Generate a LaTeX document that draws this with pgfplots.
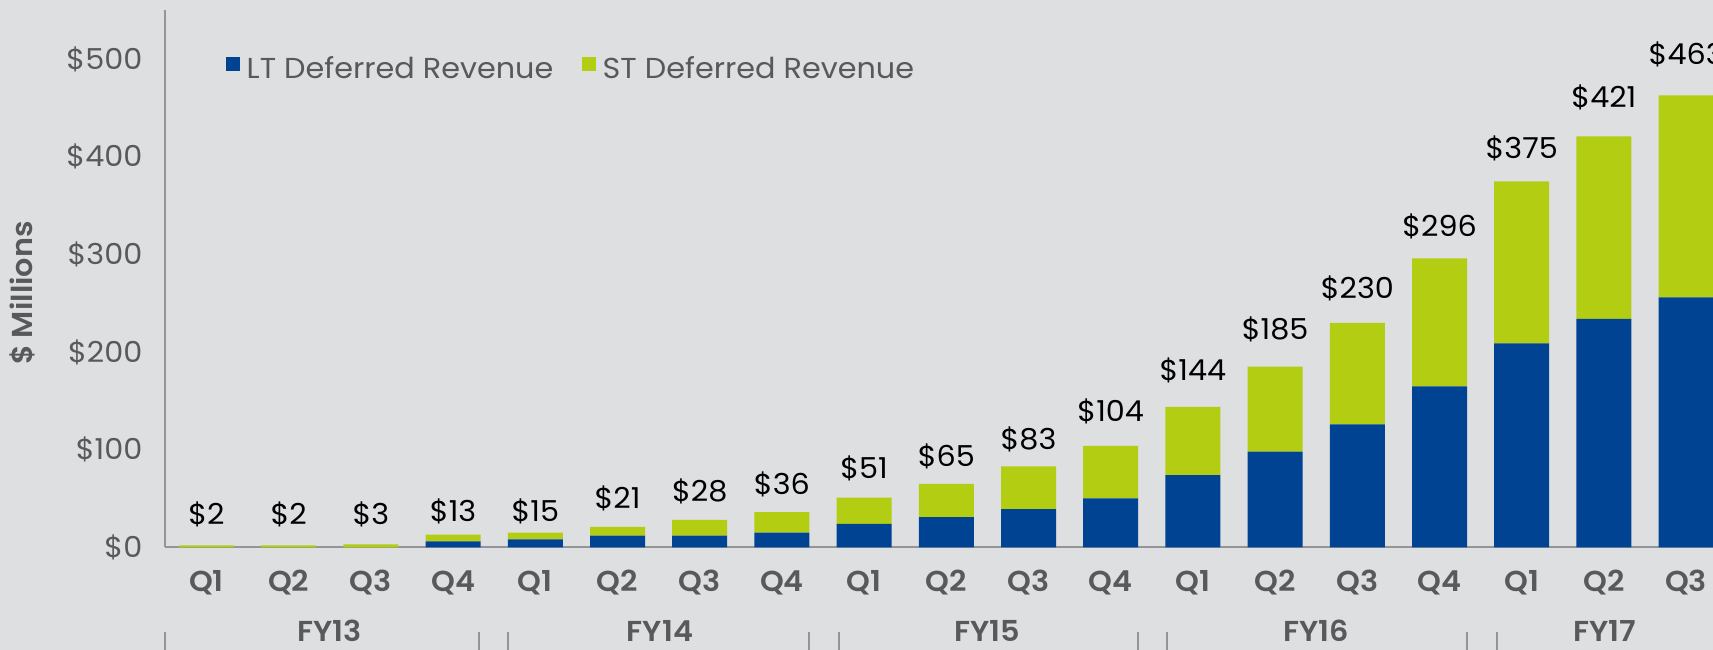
\documentclass[border=0pt]{standalone}
\usepackage{pgfplots}
\pgfplotsset{compat=1.18}
\usepackage{pgfplotstable}
\usepackage{fontspec}
\setmainfont{Poppins}[BoldFont={Poppins SemiBold}, FakeStretch=1.05]

\definecolor{bg}{HTML}{DEDFE1}
\definecolor{ltblue}{HTML}{004393}
\definecolor{stgreen}{HTML}{B3CD13}
\definecolor{txtgray}{HTML}{58595B}
\definecolor{axisgray}{HTML}{939598}
\newcommand\fs{\fontsize{8.2pt}{9pt}\selectfont}

% deferred revenue, $ millions (LT + ST = total); laby = height of the label baseline
\pgfplotstableread{
x  lt  st  total laby
0  0   2   2     23
1  0   2   2     23
2  0   3   3     23
3  6   7   13    26
4  8   7   15    26
5  12  9   21    40
6  12  16  28    47
7  15  21  36    54
8  24  27  51    70
9  31  34  65    83
10 39  44  83    100
11 50  54  104   129
12 74  70  144   171
13 98  87  185   213
14 126 104 230   255
15 165 131 296   318
16 209 166 375   398
17 234 187 421   451
18 256 207 463   495
}\deferred

\pgfplotsset{
  frame/.style={
    at={(1.65cm,1.027cm)}, anchor=south west,
    scale only axis, width=155.4mm, height=53.73mm,
    xmin=-0.505, xmax=18.4, ymin=0, ymax=550.5,
    clip=false,
  }
}

\begin{document}
\begin{tikzpicture}
  % 1 cm = 100 px of the reference
  \fill[bg] (0,0) rectangle (17.13,6.5);
  \path[use as bounding box] (0,0) rectangle (17.13,6.5);
  \clip (0,0) rectangle (17.13,6.5);

  \begin{axis}[
      frame,
      ybar stacked, bar width=5.5mm,
      axis x line=bottom, axis y line=left,
      x axis line style={-, draw=axisgray, line width=0.6pt},
      y axis line style={-, draw=axisgray, line width=0.45pt},
      major tick length=0pt,
      xtick={0,...,18},
      xticklabels={Q1,Q2,Q3,Q4,Q1,Q2,Q3,Q4,Q1,Q2,Q3,Q4,Q1,Q2,Q3,Q4,Q1,Q2,Q3},
      ytick={0,100,...,500},
      yticklabels={\$0,\$100,\$200,\$300,\$400,\$500},
      tick label style={font=\fs, text=txtgray},
      xticklabel style={font=\fs\bfseries, anchor=base, yshift=-4.44mm},
      yticklabel style={anchor=east, inner sep=0pt, xshift=-2.2mm},
      ylabel={\$ Millions},
      ylabel style={at={(axis description cs:-0.0917,0.473)}, anchor=center,
                    font=\fs\bfseries, text=txtgray},
    ]
    \addplot[fill=ltblue, draw=none] table[x=x, y=lt] {\deferred};
    \addplot[fill=stgreen, draw=none] table[x=x, y=st] {\deferred};
  \end{axis}

  % same frame, not stacked: total labels above each bar
  \begin{axis}[frame, hide axis]
    \addplot[draw=none, mark=none,
             point meta=explicit symbolic,
             nodes near coords={\$\pgfplotspointmeta},
             nodes near coords style={font=\fs, text=black, anchor=base, inner sep=0pt}]
      table[x=x, y=laby, meta=total] {\deferred};
  \end{axis}

  % legend
  \fill[ltblue] (2.26,5.79) rectangle (2.40,5.93);
  \node[anchor=base west, inner sep=0pt, font=\fs, text=txtgray] at (2.46,5.71) {LT Deferred Revenue};
  \fill[stgreen] (5.82,5.79) rectangle (5.96,5.93);
  \node[anchor=base west, inner sep=0pt, font=\fs, text=txtgray] at (6.02,5.71) {ST Deferred Revenue};

  % fiscal year groups
  \foreach \xx in {1.65,4.79,5.08,8.09,8.39,11.38,11.67,14.67,14.97}
    \draw[axisgray, line width=0.45pt] (\xx,0) -- (\xx,0.18);
  \foreach \xx/\lab in {3.298/FY13, 6.60/FY14, 9.874/FY15, 13.162/FY16, 16.05/FY17}
    \node[anchor=base, inner sep=0pt, font=\fs\bfseries, text=txtgray] at (\xx,0.09) {\lab};
\end{tikzpicture}
\end{document}
